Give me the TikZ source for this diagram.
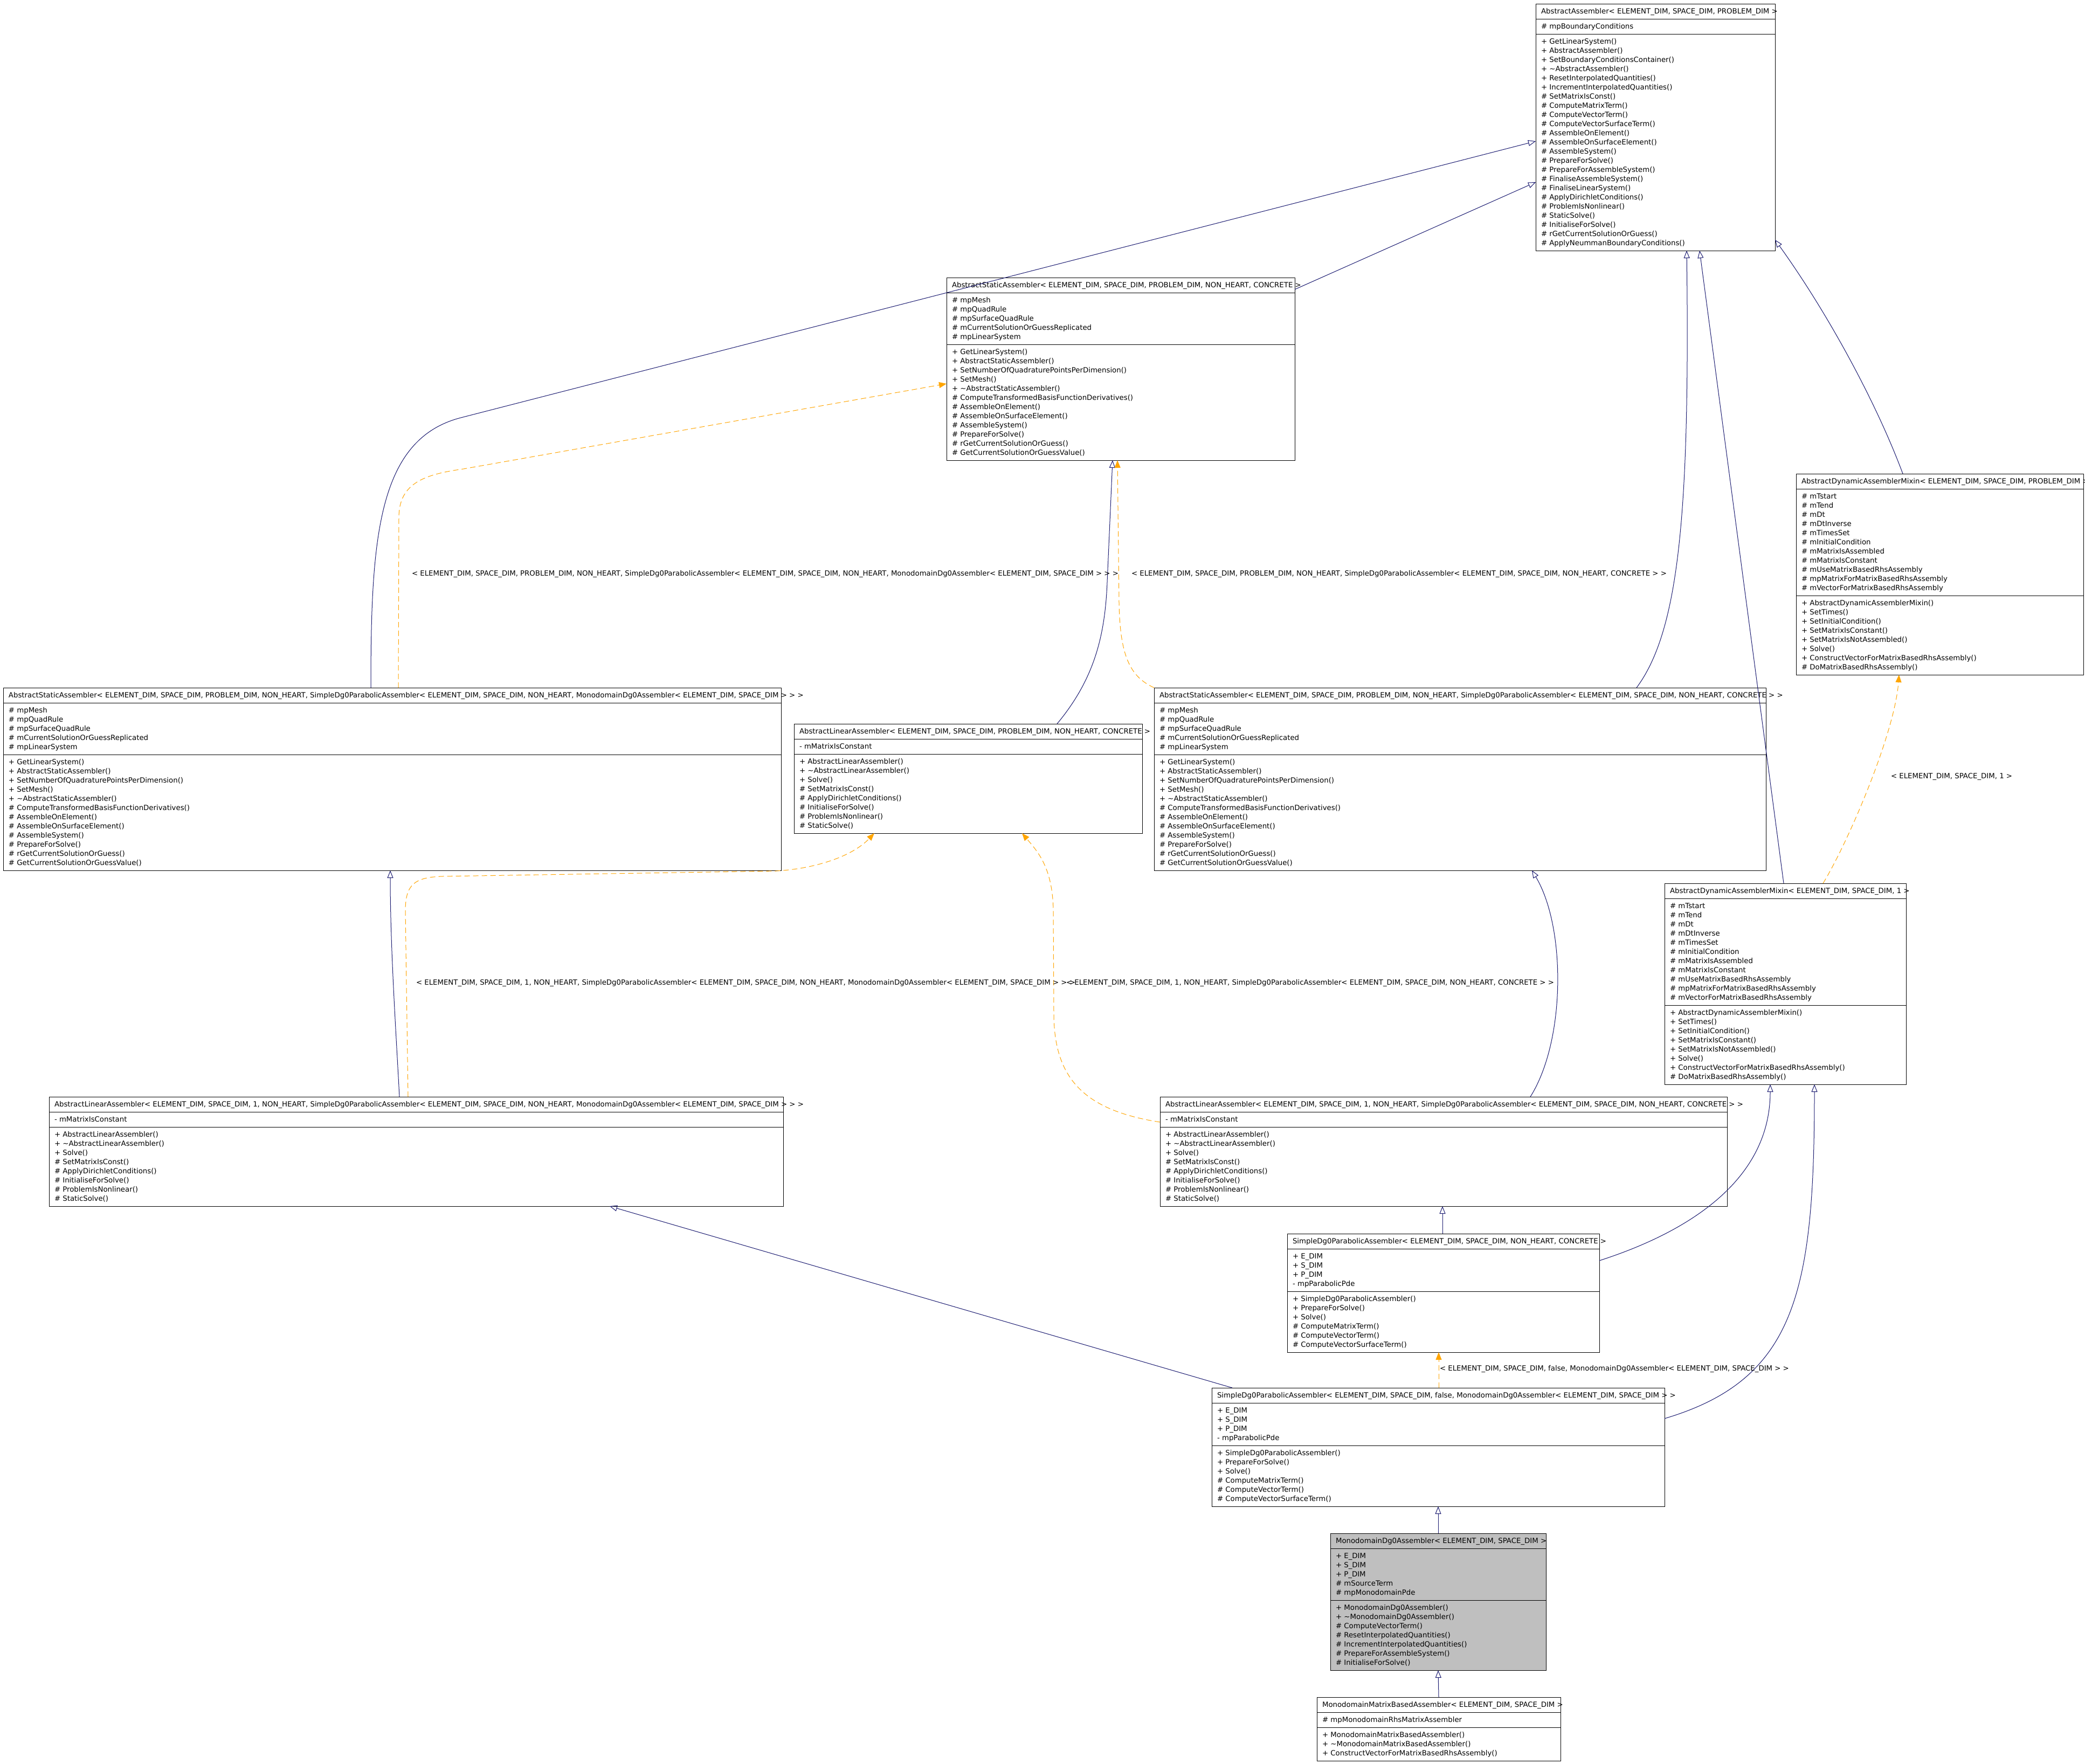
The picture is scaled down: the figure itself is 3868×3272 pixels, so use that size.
\documentclass[tikz,border=0pt]{standalone}
\usepackage{fontspec}
\setmainfont{DejaVu Sans}
\usetikzlibrary{arrows.meta,calc}
\definecolor{edgeblue}{HTML}{191970}
\definecolor{tmplorange}{HTML}{FFA500}
\definecolor{focusgrey}{HTML}{BFBFBF}
\tikzset{
  classbox/.style={draw=black, line width=1pt, rectangle, inner sep=0pt, outer sep=0pt},
  sepline/.style={draw=black, line width=1pt},
  lbl/.style={font=\fontsize{13.3}{17}\selectfont, inner sep=0pt, outer sep=0pt},
  inh/.style={draw=edgeblue, line width=1pt, -{Triangle[open, length=14pt, width=11pt]}},
  tmpl/.style={draw=tmplorange, line width=1pt, dash pattern=on 10pt off 6pt, -{Triangle[length=14pt, width=11pt, fill=tmplorange]}},
}
\newcommand\AAattr{\# mpBoundaryConditions}
\newcommand\AAmeth{+ GetLinearSystem(), + AbstractAssembler(), + SetBoundaryConditionsContainer(), + \textasciitilde AbstractAssembler(), + ResetInterpolatedQuantities(), + IncrementInterpolatedQuantities(), \# SetMatrixIsConst(), \# ComputeMatrixTerm(), \# ComputeVectorTerm(), \# ComputeVectorSurfaceTerm(), \# AssembleOnElement(), \# AssembleOnSurfaceElement(), \# AssembleSystem(), \# PrepareForSolve(), \# PrepareForAssembleSystem(), \# FinaliseAssembleSystem(), \# FinaliseLinearSystem(), \# ApplyDirichletConditions(), \# ProblemIsNonlinear(), \# StaticSolve(), \# InitialiseForSolve(), \# rGetCurrentSolutionOrGuess(), \# ApplyNeummanBoundaryConditions()}
\newcommand\ASAattr{\# mpMesh, \# mpQuadRule, \# mpSurfaceQuadRule, \# mCurrentSolutionOrGuessReplicated, \# mpLinearSystem}
\newcommand\ASAmeth{+ GetLinearSystem(), + AbstractStaticAssembler(), + SetNumberOfQuadraturePointsPerDimension(), + SetMesh(), + \textasciitilde AbstractStaticAssembler(), \# ComputeTransformedBasisFunctionDerivatives(), \# AssembleOnElement(), \# AssembleOnSurfaceElement(), \# AssembleSystem(), \# PrepareForSolve(), \# rGetCurrentSolutionOrGuess(), \# GetCurrentSolutionOrGuessValue()}
\newcommand\ADMattr{\# mTstart, \# mTend, \# mDt, \# mDtInverse, \# mTimesSet, \# mInitialCondition, \# mMatrixIsAssembled, \# mMatrixIsConstant, \# mUseMatrixBasedRhsAssembly, \# mpMatrixForMatrixBasedRhsAssembly, \# mVectorForMatrixBasedRhsAssembly}
\newcommand\ADMmeth{+ AbstractDynamicAssemblerMixin(), + SetTimes(), + SetInitialCondition(), + SetMatrixIsConstant(), + SetMatrixIsNotAssembled(), + Solve(), + ConstructVectorForMatrixBasedRhsAssembly(), \# DoMatrixBasedRhsAssembly()}
\newcommand\ALAattr{- mMatrixIsConstant}
\newcommand\ALAmeth{+ AbstractLinearAssembler(), + \textasciitilde AbstractLinearAssembler(), + Solve(), \# SetMatrixIsConst(), \# ApplyDirichletConditions(), \# InitialiseForSolve(), \# ProblemIsNonlinear(), \# StaticSolve()}
\newcommand\SDPattr{+ E\_DIM, + S\_DIM, + P\_DIM, - mpParabolicPde}
\newcommand\SDPmeth{+ SimpleDg0ParabolicAssembler(), + PrepareForSolve(), + Solve(), \# ComputeMatrixTerm(), \# ComputeVectorTerm(), \# ComputeVectorSurfaceTerm()}
\newcommand\MDAattr{+ E\_DIM, + S\_DIM, + P\_DIM, \# mSourceTerm, \# mpMonodomainPde}
\newcommand\MDAmeth{+ MonodomainDg0Assembler(), + \textasciitilde MonodomainDg0Assembler(), \# ComputeVectorTerm(), \# ResetInterpolatedQuantities(), \# IncrementInterpolatedQuantities(), \# PrepareForAssembleSystem(), \# InitialiseForSolve()}
\newcommand\MMBattr{\# mpMonodomainRhsMatrixAssembler}
\newcommand\MMBmeth{+ MonodomainMatrixBasedAssembler(), + \textasciitilde MonodomainMatrixBasedAssembler(), + ConstructVectorForMatrixBasedRhsAssembly()}
% #1 name, #2 left, #3 top, #4 width, #5 fill, #6 title, #7 attrs, #8 methods
\newcommand\umlclass[8]{%
  \foreach \itm [count=\cnt] in #7 {\xdef\nA{\cnt}}%
  \foreach \itm [count=\cnt] in #8 {\xdef\nM{\cnt}}%
  \pgfmathsetmacro\hB{(\nA-1)*17+28}%
  \pgfmathsetmacro\hC{(\nM-1)*17+28}%
  \pgfmathsetmacro\hT{28+\hB+\hC}%
  \pgfmathsetmacro\yM{28+\hB}%
  \node[classbox, fill=#5, minimum width=#4pt, minimum height=\hT pt, anchor=north west] (#1) at (#2,#3) {};%
  \draw[sepline] ($(#1.north west)+(0,28)$) -- ($(#1.north east)+(0,28)$);%
  \draw[sepline] ($(#1.north west)+(0,\yM)$) -- ($(#1.north east)+(0,\yM)$);%
  \node[lbl, anchor=base west] (#1-t) at ($(#1.north west)+(10,18)$) {#6};%
  \foreach \itm [count=\i from 0] in #7 {\node[lbl, anchor=base west] (#1-a\i) at ($(#1.north west)+(10,{46+\i*17})$) {\itm};}%
  \foreach \itm [count=\i from 0] in #8 {\node[lbl, anchor=base west] (#1-m\i) at ($(#1.north west)+(10,{\yM+18+\i*17})$) {\itm};}%
}
\begin{document}
\begin{tikzpicture}[x=1pt,y=-1pt]
\useasboundingbox (0,0) rectangle (3868,3272);
\fill[white] (0,0) rectangle (3868,3272);

\umlclass{AA}{2849}{7}{444}{white}{AbstractAssembler< ELEMENT\_DIM, SPACE\_DIM, PROBLEM\_DIM >}{\AAattr}{\AAmeth}
\umlclass{ASAC}{1756}{515}{646}{white}{AbstractStaticAssembler< ELEMENT\_DIM, SPACE\_DIM, PROBLEM\_DIM, NON\_HEART, CONCRETE >}{\ASAattr}{\ASAmeth}
\umlclass{ADMP}{3332}{879}{533}{white}{AbstractDynamicAssemblerMixin< ELEMENT\_DIM, SPACE\_DIM, PROBLEM\_DIM >}{\ADMattr}{\ADMmeth}
\umlclass{ASAM}{6}{1276}{1443}{white}{AbstractStaticAssembler< ELEMENT\_DIM, SPACE\_DIM, PROBLEM\_DIM, NON\_HEART, SimpleDg0ParabolicAssembler< ELEMENT\_DIM, SPACE\_DIM, NON\_HEART, MonodomainDg0Assembler< ELEMENT\_DIM, SPACE\_DIM > > >}{\ASAattr}{\ASAmeth}
\umlclass{ALAC}{1473}{1343}{646}{white}{AbstractLinearAssembler< ELEMENT\_DIM, SPACE\_DIM, PROBLEM\_DIM, NON\_HEART, CONCRETE >}{\ALAattr}{\ALAmeth}
\umlclass{ASACC}{2141}{1276}{1135}{white}{AbstractStaticAssembler< ELEMENT\_DIM, SPACE\_DIM, PROBLEM\_DIM, NON\_HEART, SimpleDg0ParabolicAssembler< ELEMENT\_DIM, SPACE\_DIM, NON\_HEART, CONCRETE > >}{\ASAattr}{\ASAmeth}
\umlclass{ADMone}{3088}{1639}{448}{white}{AbstractDynamicAssemblerMixin< ELEMENT\_DIM, SPACE\_DIM, 1 >}{\ADMattr}{\ADMmeth}
\umlclass{ALAM}{91}{2035}{1362}{white}{AbstractLinearAssembler< ELEMENT\_DIM, SPACE\_DIM, 1, NON\_HEART, SimpleDg0ParabolicAssembler< ELEMENT\_DIM, SPACE\_DIM, NON\_HEART, MonodomainDg0Assembler< ELEMENT\_DIM, SPACE\_DIM > > >}{\ALAattr}{\ALAmeth}
\umlclass{ALACC}{2152}{2035}{1052}{white}{AbstractLinearAssembler< ELEMENT\_DIM, SPACE\_DIM, 1, NON\_HEART, SimpleDg0ParabolicAssembler< ELEMENT\_DIM, SPACE\_DIM, NON\_HEART, CONCRETE > >}{\ALAattr}{\ALAmeth}
\umlclass{SDPC}{2388}{2289}{579}{white}{SimpleDg0ParabolicAssembler< ELEMENT\_DIM, SPACE\_DIM, NON\_HEART, CONCRETE >}{\SDPattr}{\SDPmeth}
\umlclass{SDPM}{2248}{2575}{840}{white}{SimpleDg0ParabolicAssembler< ELEMENT\_DIM, SPACE\_DIM, false, MonodomainDg0Assembler< ELEMENT\_DIM, SPACE\_DIM > >}{\SDPattr}{\SDPmeth}
\umlclass{MDA}{2468}{2845}{400}{focusgrey}{MonodomainDg0Assembler< ELEMENT\_DIM, SPACE\_DIM >}{\MDAattr}{\MDAmeth}
\umlclass{MMBA}{2443}{3149}{452}{white}{MonodomainMatrixBasedAssembler< ELEMENT\_DIM, SPACE\_DIM >}{\MMBattr}{\MMBmeth}

% inheritance connectors
\draw[inh] ($(ASAC.north east)+(0,22)$) -- ($(AA.north west)+(0,331)$);
\draw[inh] ($(ASAM.north west)+(682,0)$) .. controls (688,1000) and (700,815) .. (855,775) -- ($(AA.north west)+(0,255)$);
\draw[inh] ($(ALAC.north west)+(488,0)$) .. controls (2030,1260) and (2050,1180) .. (2054,1080) -- ($(ASAC.south west)+(308,0)$);
\draw[inh] ($(ASACC.north west)+(895,0)$) .. controls (3115,1170) and (3135,950) .. ($(AA.south west)+(280,0)$);
\draw[inh] ($(ADMone.north west)+(221,0)$) -- ($(AA.south west)+(304,0)$);
\draw[inh] ($(ADMP.north west)+(198,0)$) .. controls (3480,745) and (3390,580) .. ($(AA.north east)+(0,438)$);
\draw[inh] ($(ALAM.north west)+(650,0)$) .. controls (735,1920) and (724,1760) .. ($(ASAM.south west)+(718,0)$);
\draw[inh] ($(ALACC.north west)+(687,0)$) .. controls (2905,1930) and (2905,1720) .. ($(ASACC.south west)+(701,0)$);
\draw[inh] ($(SDPC.north west)+(288,0)$) -- ($(ALACC.south west)+(524,0)$);
\draw[inh] ($(SDPC.north east)+(0,50)$) .. controls (3150,2280) and (3284,2180) .. ($(ADMone.south west)+(196,0)$);
\draw[inh] ($(SDPM.north west)+(38,0)$) -- ($(ALAM.south west)+(1040,0)$);
\draw[inh] ($(SDPM.north east)+(0,57)$) .. controls (3330,2560) and (3366,2400) .. ($(ADMone.south west)+(278,0)$);
\draw[inh] (MDA.north) -- (SDPM.south);
\draw[inh] (MMBA.north) -- (MDA.south);

% template instantiation connectors
\draw[tmpl] ($(ASAM.north west)+(733,0)$) -- (740,960) .. controls (740,895) and (790,880) .. (860,870) -- ($(ASAC.north west)+(0,197)$);
\draw[tmpl] (ASACC.north west) .. controls (2095,1255) and (2078,1215) .. (2076,1120) -- ($(ASAC.south west)+(317,0)$);
\draw[tmpl] ($(ALAM.north west)+(666,0)$) -- (752,1690) .. controls (752,1640) and (770,1628) .. (820,1626) -- (1440,1616) .. controls (1510,1612) and (1580,1590) .. ($(ALAC.south west)+(149,0)$);
\draw[tmpl] ($(ALACC.north west)+(0,47)$) .. controls (2010,2060) and (1955,2000) .. (1955,1880) -- (1954,1690) .. controls (1953,1610) and (1925,1580) .. ($(ALAC.south west)+(423,0)$);
\draw[tmpl] ($(ADMone.north west)+(294,0)$) .. controls (3430,1560) and (3515,1360) .. ($(ADMP.south west)+(191,0)$);
\draw[tmpl] ($(SDPM.north west)+(421,0)$) -- ($(SDPC.south west)+(281,0)$);

% connector labels
\node[lbl, anchor=west] (L1) at (764,1065) {< ELEMENT\_DIM, SPACE\_DIM, PROBLEM\_DIM, NON\_HEART, SimpleDg0ParabolicAssembler< ELEMENT\_DIM, SPACE\_DIM, NON\_HEART, MonodomainDg0Assembler< ELEMENT\_DIM, SPACE\_DIM > > >};
\node[lbl, anchor=west] (L2) at (2099,1065) {< ELEMENT\_DIM, SPACE\_DIM, PROBLEM\_DIM, NON\_HEART, SimpleDg0ParabolicAssembler< ELEMENT\_DIM, SPACE\_DIM, NON\_HEART, CONCRETE > >};
\node[lbl, anchor=west] (L3) at (772,1824) {< ELEMENT\_DIM, SPACE\_DIM, 1, NON\_HEART, SimpleDg0ParabolicAssembler< ELEMENT\_DIM, SPACE\_DIM, NON\_HEART, MonodomainDg0Assembler< ELEMENT\_DIM, SPACE\_DIM > > >};
\node[lbl, anchor=west] (L4) at (1978,1824) {< ELEMENT\_DIM, SPACE\_DIM, 1, NON\_HEART, SimpleDg0ParabolicAssembler< ELEMENT\_DIM, SPACE\_DIM, NON\_HEART, CONCRETE > >};
\node[lbl, anchor=west] (L5) at (3508,1441) {< ELEMENT\_DIM, SPACE\_DIM, 1 >};
\node[lbl, anchor=west] (L6) at (2671,2540) {< ELEMENT\_DIM, SPACE\_DIM, false, MonodomainDg0Assembler< ELEMENT\_DIM, SPACE\_DIM > >};
\end{tikzpicture}
\end{document}
